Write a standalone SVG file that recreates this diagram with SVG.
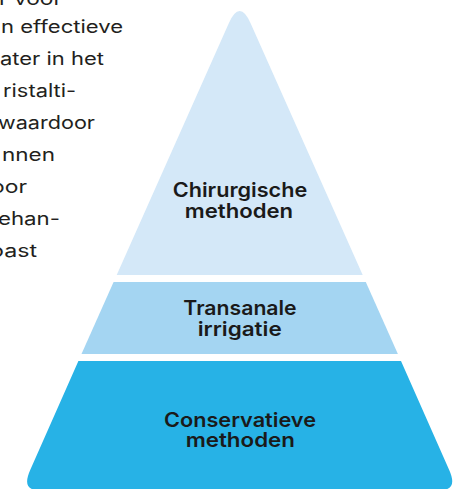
<svg xmlns="http://www.w3.org/2000/svg" width="462" height="489" viewBox="0 0 462 489">
<style>
.body{font-family:Inter,"Liberation Sans",sans-serif;font-size:18px;fill:#231f20;text-anchor:end}
.lbl{font-family:Inter,"Liberation Sans",sans-serif;font-size:20px;font-weight:600;fill:#1a1a1a;text-anchor:middle}
</style>
<rect width="462" height="489" fill="#ffffff"/>
<g id="body-text">
<text class="body" x="62" y="5" textLength="63" lengthAdjust="spacingAndGlyphs">r voor</text>
<text class="body" x="123" y="33" textLength="122" lengthAdjust="spacingAndGlyphs">n effectieve</text>
<text class="body" x="104" y="65" textLength="104" lengthAdjust="spacingAndGlyphs">ater in het</text>
<text class="body" x="76" y="97" textLength="73" lengthAdjust="spacingAndGlyphs">ristalti-</text>
<text class="body" x="95" y="129" textLength="97" lengthAdjust="spacingAndGlyphs">waardoor</text>
<text class="body" x="55" y="161" textLength="53" lengthAdjust="spacingAndGlyphs">nnen</text>
<text class="body" x="27" y="193" textLength="36" lengthAdjust="spacingAndGlyphs">oor</text>
<text class="body" x="60" y="225" textLength="62" lengthAdjust="spacingAndGlyphs">ehan-</text>
<text class="body" x="37" y="257" textLength="47" lengthAdjust="spacingAndGlyphs">oast</text>
</g>
<g id="tier-top">
<path d="M116.7 275 L228.7 23.4 Q239.7 -1.4 250.7 23.4 L362.7 275 Z" fill="#d4e8f8"/>
<text class="lbl" x="240" y="196.7" textLength="134.6" lengthAdjust="spacingAndGlyphs">Chirurgische</text>
<text class="lbl" x="239" y="217.7" textLength="108.3" lengthAdjust="spacingAndGlyphs">methoden</text>
</g>
<g id="tier-middle">
<path d="M113.6 282 L365.8 282 L397.9 354 L81.5 354 Z" fill="#a4d5f2"/>
<text class="lbl" x="240" y="315" textLength="113.3" lengthAdjust="spacingAndGlyphs">Transanale</text>
<text class="lbl" x="239.7" y="335.5" textLength="84" lengthAdjust="spacingAndGlyphs">irrigatie</text>
</g>
<g id="tier-bottom">
<path d="M78.4 361 L401 361 L449.2 470 Q458.1 490 441 490 L38 490 Q21.3 490 30.2 470 Z" fill="#27b2e6"/>
<text class="lbl" x="240" y="426.7" textLength="152" lengthAdjust="spacingAndGlyphs">Conservatieve</text>
<text class="lbl" x="240.3" y="446.7" textLength="109.3" lengthAdjust="spacingAndGlyphs">methoden</text>
</g>
</svg>
